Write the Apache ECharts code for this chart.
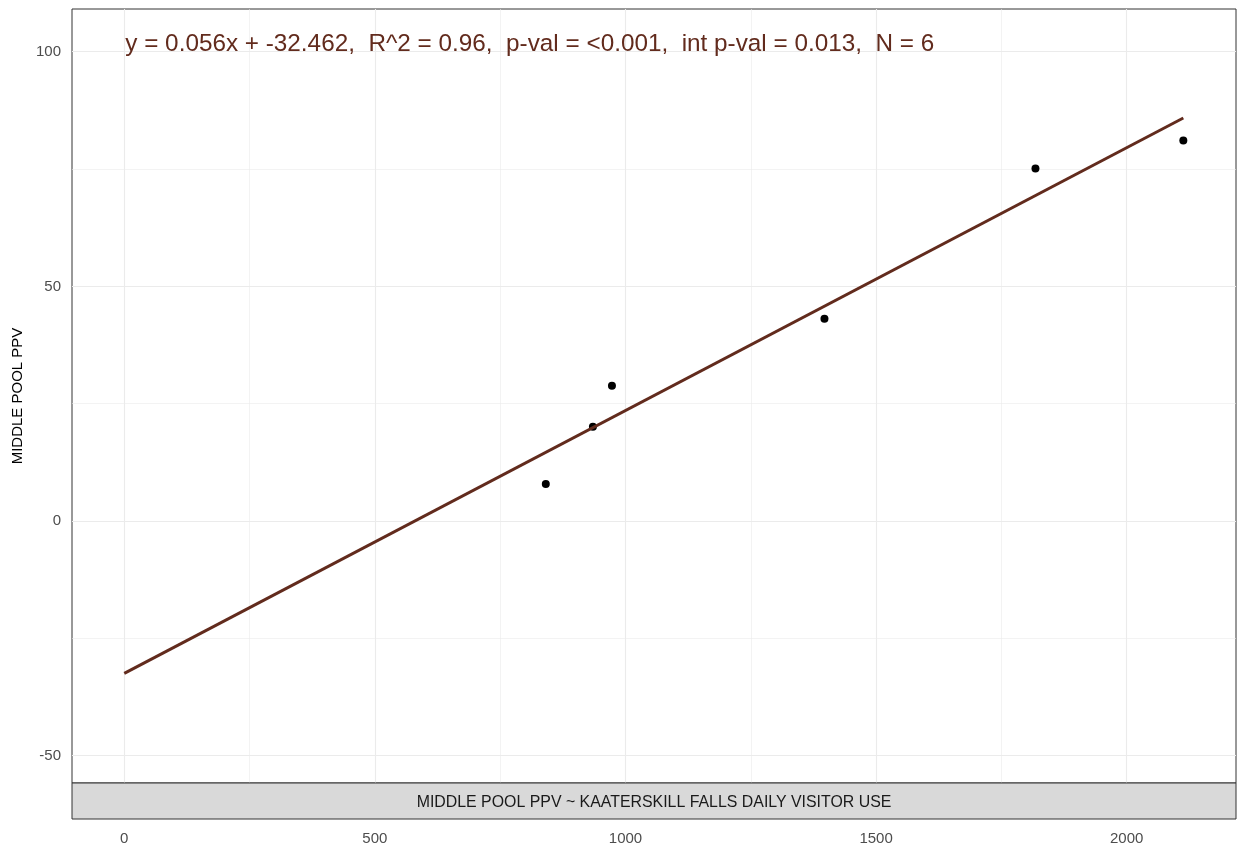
<!DOCTYPE html>
<html>
<head>
<meta charset="utf-8">
<script src="https://cdn.jsdelivr.net/npm/echarts@6/dist/echarts.min.js"></script>
<style>
  html, body { margin: 0; padding: 0; background: #ffffff; }
  #chart { width: 1238px; height: 843px; }
</style>
</head>
<body>
<div id="chart"></div>
<script>
// Daily visitor use at Kaaterskill Falls vs. Middle Pool PPV
const visitorUse = [841, 935, 973, 1397, 1818, 2113];
const middlePoolPPV = [7.9, 20.1, 28.8, 43.1, 75.1, 81.1];

// Fitted model as reported in the annotation
const fitSlope = 0.056;
const fitIntercept = -32.462;
const fitLabel = 'y = 0.056x + -32.462,  R^2 = 0.96,  p-val = <0.001,  int p-val = 0.013,  N = 6';

const xTicks = [0, 500, 1000, 1500, 2000];
const xMinorTicks = [250, 750, 1250, 1750];
const yTicks = [-50, 0, 50, 100];
const yMinorTicks = [-25, 25, 75];

const stripLabel = 'MIDDLE POOL PPV ~ KAATERSKILL FALLS DAILY VISITOR USE';
const yName = 'MIDDLE POOL PPV';

const fitColor = '#622b1d';
const font = 'Liberation Sans, Arial, sans-serif';
const gridLeft = 72, gridRight = 2, gridTop = 9, gridBottom = 60, stripH = 36;
const W = 1238, H = 843;

const points = visitorUse.map((x, i) => [x, middlePoolPPV[i]]);
const fitXEnd = Math.max(...visitorUse);
const fitLine = [0, fitXEnd].map(x => [x, fitSlope * x + fitIntercept]);

const gridLineData = []
  .concat(xTicks.map(v => ({ xAxis: v, lineStyle: { width: 1.1 } })))
  .concat(xMinorTicks.map(v => ({ xAxis: v, lineStyle: { width: 0.6 } })))
  .concat(yTicks.map(v => ({ yAxis: v, lineStyle: { width: 1.1 } })))
  .concat(yMinorTicks.map(v => ({ yAxis: v, lineStyle: { width: 0.6 } })));

const chart = echarts.init(document.getElementById('chart'), null, { renderer: 'canvas' });

const option = {
  animation: false,
  backgroundColor: '#ffffff',
  grid: {
    left: gridLeft, right: gridRight, top: gridTop, bottom: gridBottom,
    containLabel: false,
    outerBoundsMode: 'none',
    show: true, borderColor: '#333333', borderWidth: 1, backgroundColor: '#ffffff'
  },
  xAxis: {
    type: 'value',
    min: -104.3, max: 2218.1,
    offset: stripH,
    axisLine: { show: false },
    splitLine: { show: false },
    axisTick: { show: true, length: 4, customValues: xTicks, lineStyle: { color: '#333333', width: 1 } },
    axisLabel: {
      customValues: xTicks, margin: 12,
      formatter: v => String(v),
      color: '#4d4d4d', fontSize: 15, fontFamily: font
    }
  },
  yAxis: {
    type: 'value',
    min: -55.82, max: 109.1,
    name: yName,
    nameLocation: 'middle',
    nameGap: 46,
    nameRotate: 90,
    nameTextStyle: { color: '#000000', fontSize: 15, fontFamily: font },
    axisLine: { show: false },
    splitLine: { show: false },
    axisTick: { show: true, length: 5, customValues: yTicks, lineStyle: { color: '#333333', width: 1 } },
    axisLabel: {
      customValues: yTicks, margin: 11,
      color: '#4d4d4d', fontSize: 15, fontFamily: font
    }
  },
  series: [
    {
      // panel grid lines
      type: 'line',
      data: [],
      z: 1,
      silent: true,
      markLine: {
        z: 1,
        silent: true,
        symbol: ['none', 'none'],
        label: { show: false },
        emphasis: { disabled: true },
        lineStyle: { color: '#ebebeb', type: 'solid' },
        data: gridLineData
      }
    },
    {
      type: 'scatter',
      data: points,
      symbol: 'circle',
      symbolSize: 8,
      itemStyle: { color: '#000000', opacity: 1 },
      z: 3
    },
    {
      type: 'line',
      data: fitLine,
      symbol: 'none',
      lineStyle: { color: fitColor, width: 3 },
      z: 4
    }
  ]
};

chart.setOption(option);

// Annotation anchored at x = 0 near the top of the panel, plus the bottom strip
const anchor = chart.convertToPixel({ gridIndex: 0 }, [0, 101]);
chart.setOption({
  graphic: [
    {
      type: 'text',
      left: anchor[0] + 1,
      top: anchor[1] - 15,
      z: 10,
      style: {
        text: fitLabel,
        fill: fitColor,
        fontSize: 24.3,
        fontFamily: font
      }
    },
    {
      type: 'rect',
      shape: { x: gridLeft, y: H - gridBottom, width: W - gridLeft - gridRight, height: stripH },
      style: { fill: '#d9d9d9', stroke: '#333333', lineWidth: 1 },
      z: 5
    },
    {
      type: 'text',
      x: gridLeft + (W - gridLeft - gridRight) / 2,
      y: H - gridBottom + stripH / 2 + 1.5,
      z: 6,
      style: {
        text: stripLabel,
        fill: '#1a1a1a',
        fontSize: 15.9,
        fontFamily: font,
        align: 'center',
        verticalAlign: 'middle'
      }
    }
  ]
});
</script>
</body>
</html>
